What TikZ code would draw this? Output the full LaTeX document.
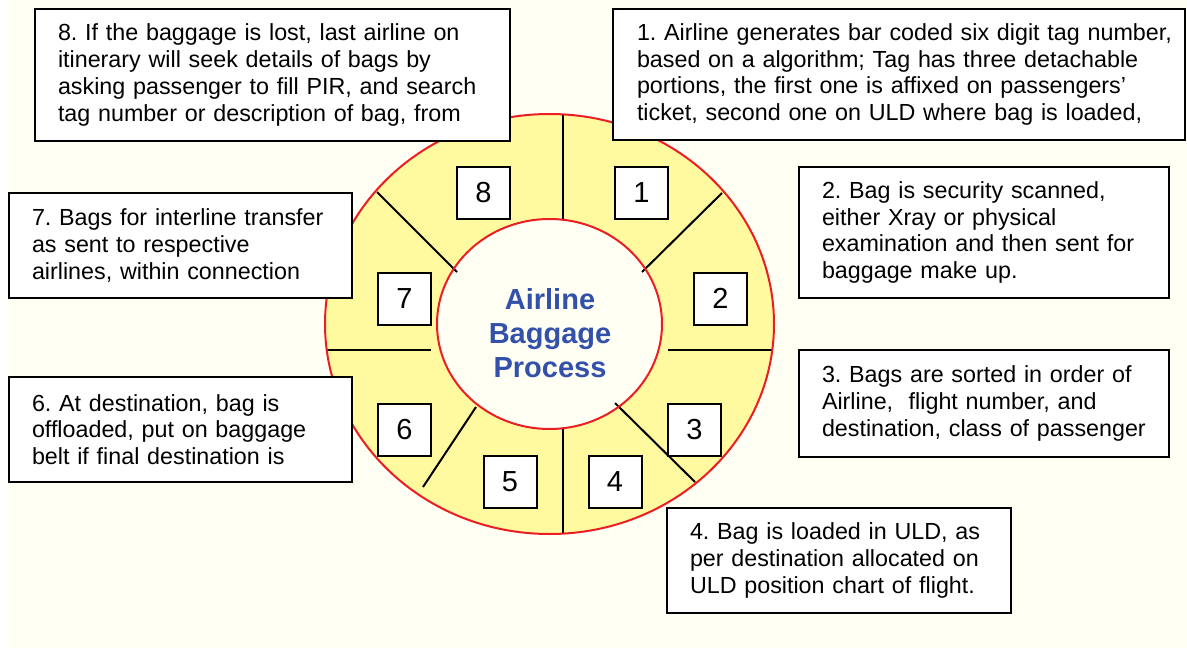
\documentclass[tikz,border=0pt]{standalone}
\usepackage{fontspec}
\setmainfont{Liberation Sans}
\frenchspacing
\definecolor{ringred}{RGB}{235,30,35}
\definecolor{ringfill}{RGB}{255,250,160}
\definecolor{bgdots}{RGB}{255,255,244}
\definecolor{titleblue}{RGB}{51,80,170}
\tikzset{
  textbox/.style={draw=black, line width=2pt, fill=white, inner xsep=0pt, inner ysep=0pt,
    align=left, font=\fontsize{23.3pt}{26.8pt}\selectfont\frenchspacing},
  numbox/.style={draw=black, line width=2pt, fill=white, minimum width=53pt, minimum height=52pt,
    inner sep=0pt, font=\fontsize{29pt}{31pt}\selectfont},
  spoke/.style={draw=black, line width=2pt},
  ringline/.style={draw=ringred, line width=2pt}
}
\begin{document}
\begin{tikzpicture}[x=1pt,y=-1pt]
\useasboundingbox (0,0) rectangle (1187,648);
\fill[bgdots] (8,0) rectangle (1187,648);
% ring
\coordinate (c) at (549.5,324);
\fill[ringfill] (c) ellipse [x radius=224.5pt, y radius=210pt];
\fill[bgdots] (c) ellipse [x radius=112.5pt, y radius=105pt];
% spokes
\coordinate (sTa) at (563,114);  \coordinate (sTb) at (563,219);
\coordinate (sBa) at (563,429);  \coordinate (sBb) at (563,534);
\coordinate (sRa) at (668,350);  \coordinate (sRb) at (773,350);
\coordinate (sLa) at (326,350);  \coordinate (sLb) at (431,350);
\coordinate (dTRa) at (722,193); \coordinate (dTRb) at (642,272);
\coordinate (dTLa) at (377,192); \coordinate (dTLb) at (457,272);
\coordinate (dBRa) at (615,403); \coordinate (dBRb) at (695,482);
\coordinate (dBLa) at (476,407); \coordinate (dBLb) at (423,487);
\draw[spoke] (sTa) -- (sTb);
\draw[spoke] (sBa) -- (sBb);
\draw[spoke] (sRa) -- (sRb);
\draw[spoke] (sLa) -- (sLb);
\draw[spoke] (dTRa) -- (dTRb);
\draw[spoke] (dTLa) -- (dTLb);
\draw[spoke] (dBRa) -- (dBRb);
\draw[spoke] (dBLa) -- (dBLb);
\draw[ringline] (c) ellipse [x radius=224.5pt, y radius=210pt];
\draw[ringline] (c) ellipse [x radius=112.5pt, y radius=105pt];
% title
\node[align=center, text=titleblue, font=\fontsize{29pt}{34pt}\selectfont\bfseries] (title) at (550,333)
  {Airline\\Baggage\\Process};
% number boxes
\node[numbox] (n8) at (483.5,193) {8};
\node[numbox] (n1) at (641.5,193) {1};
\node[numbox] (n2) at (720.5,298.5) {2};
\node[numbox] (n7) at (404.5,298.5) {7};
\node[numbox] (n6) at (404.5,429.5) {6};
\node[numbox] (n3) at (694.5,429.5) {3};
\node[numbox] (n5) at (510,481.5) {5};
\node[numbox] (n4) at (615,481.5) {4};
% text boxes
\node[textbox, minimum width=475pt, minimum height=132pt, text width=429pt] (b8) at (272.5,75)
  {8. If the baggage is lost, last airline on\\itinerary will seek details of bags by\\asking passenger to fill PIR, and search\\tag number or description of bag, from};
\node[textbox, minimum width=572pt, minimum height=131pt, text width=524pt] (b1) at (899,74.5)
  {\mbox{1. Airline generates bar coded six digit tag number,}\\\mbox{based on a algorithm; Tag has three detachable}\\\mbox{portions, the first one is affixed on passengers’}\\\mbox{ticket, second one on ULD where bag is loaded,}};
\node[textbox, minimum width=370pt, minimum height=131pt, text width=324pt] (b2) at (984,232.5)
  {2. Bag is security scanned,\\either Xray or physical\\examination and then sent for\\baggage make up.};
\node[textbox, minimum width=370pt, minimum height=107pt, text width=324pt] (b3) at (984,403.5)
  {3. Bags are sorted in order of\\Airline,\ \ flight number, and\\destination, class of passenger};
\node[textbox, minimum width=344pt, minimum height=105pt, text width=298pt] (b4) at (839,560.5)
  {4. Bag is loaded in ULD, as\\per destination allocated on\\ULD position chart of flight.};
\node[textbox, minimum width=343pt, minimum height=105pt, text width=297pt] (b7) at (180.5,245.5)
  {7. Bags for interline transfer\\as sent to respective\\airlines, within connection};
\node[textbox, minimum width=343pt, minimum height=105pt, text width=297pt] (b6) at (180.5,429.5)
  {6. At destination, bag is\\offloaded, put on baggage\\belt if final destination is};
\end{tikzpicture}
\end{document}
